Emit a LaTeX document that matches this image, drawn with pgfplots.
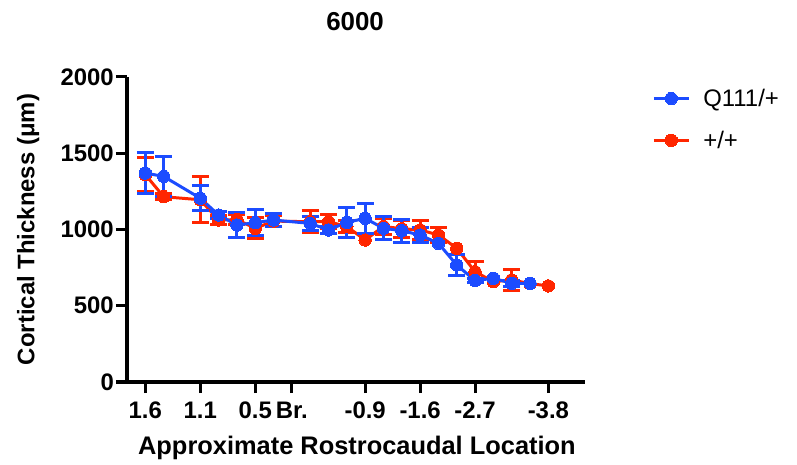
\documentclass[border=0pt]{standalone}
\usepackage{pgfplots}
\pgfplotsset{compat=1.18}
\usepackage{fontspec}
\setmainfont{Liberation Sans}
\definecolor{qblue}{RGB}{28,76,255}
\definecolor{wtred}{RGB}{255,38,0}

% x positions are section indices; ticks carry the Bregma labels
\pgfplotstableread{
x y e
0 1360 113
1 1215 20
3 1195 150
4 1062 30
5 1065 35
6 1008 70
7 1055 35
9 1051 72
10 1051 45
11 1020 40
12 931 0
13 1020 50
14 1005 55
15 997 60
16 964 50
17 877 0
18 723 70
19 658 0
20 669 67
21 645 0
22 630 0
}\wttable

\pgfplotstableread{
x y e
0 1370 135
1 1348 133
3 1205 82
4 1095 20
5 1029 84
6 1045 84
7 1062 40
9 1040 45
10 997 20
11 1047 100
12 1073 97
13 1008 74
14 992 74
15 964 50
16 909 0
17 767 67
18 665 15
19 680 0
20 647 20
21 647 0
}\qtable

\begin{document}
\begin{tikzpicture}
\path[use as bounding box] (0,0) rectangle (797bp,465bp);
\begin{axis}[
    at={(127bp,83bp)}, anchor=south west,
    scale only axis, width=458bp, height=305bp,
    xmin=-1, xmax=24, ymin=0, ymax=2000,
    axis x line*=bottom, axis y line*=left,
    axis line style={line width=3bp, -},
    xtick={0,3,6,8,12,15,18,22},
    xticklabels={1.6,1.1,0.5,Br.,-0.9,-1.6,-2.7,-3.8},
    ytick={0,500,1000,1500,2000},
    tick align=outside, major tick length=11bp,
    tick style={line width=3bp, black},
    ticklabel style={font=\fontsize{24}{24}\selectfont\bfseries},
    yticklabel style={inner xsep=2bp},
    xticklabel style={inner ysep=9bp},
    /pgf/number format/1000 sep={},
    /pgf/number format/assume math mode=true,
    title={6000},
    title style={at={(axis description cs:0.498,1.161)}, anchor=center,
        font=\fontsize{26}{26}\selectfont\bfseries},
    xlabel={Approximate Rostrocaudal Location},
    xlabel style={at={(axis description cs:0.502,-0.216)}, anchor=center,
        font=\fontsize{25.5}{25.5}\selectfont\bfseries},
    ylabel={Cortical Thickness (μm)},
    ylabel style={at={(axis description cs:-0.216,0.5)}, anchor=center, rotate=0,
        font=\fontsize{24}{24}\selectfont\bfseries},
    legend style={draw=none, fill=none, at={(axis description cs:1.14,0.974)},
        anchor=north west, font=\fontsize{24}{24}\selectfont,
        row sep=19bp,
        /tikz/every odd column/.append style={column sep=11bp}},
    legend cell align=left,
    reverse legend,
    legend image code/.code={
        \draw[mark repeat=2, mark phase=2, #1]
            plot coordinates {(0bp,0bp) (17.5bp,0bp) (35bp,0bp)};},
    clip=false,
]
% red: error bars behind (only where visible), then line and points
\addplot[forget plot, draw=none, mark=none,
    x filter/.expression={\thisrow{e}>0 ? x : nan},
    unbounded coords=discard,
    error bars/.cd, y dir=both, y explicit,
    error bar style={draw=wtred, line width=3bp},
    error mark options={draw=wtred, rotate=90, mark size=8.5bp, line width=3bp}]
    table[x=x, y=y, y error=e] {\wttable};
\addplot[wtred, line width=3bp, mark=*, mark size=6.2bp,
    mark options={solid, fill=wtred, draw=wtred, line width=0pt}]
    table[x=x, y=y] {\wttable};
\addlegendentry{+/+}
% blue
\addplot[forget plot, draw=none, mark=none,
    x filter/.expression={\thisrow{e}>0 ? x : nan},
    unbounded coords=discard,
    error bars/.cd, y dir=both, y explicit,
    error bar style={draw=qblue, line width=3bp},
    error mark options={draw=qblue, rotate=90, mark size=8.5bp, line width=3bp}]
    table[x=x, y=y, y error=e] {\qtable};
\addplot[qblue, line width=3bp, mark=*, mark size=6.2bp,
    mark options={solid, fill=qblue, draw=qblue, line width=0pt}]
    table[x=x, y=y] {\qtable};
\addlegendentry{Q111/+}
\end{axis}
\end{tikzpicture}
\end{document}
